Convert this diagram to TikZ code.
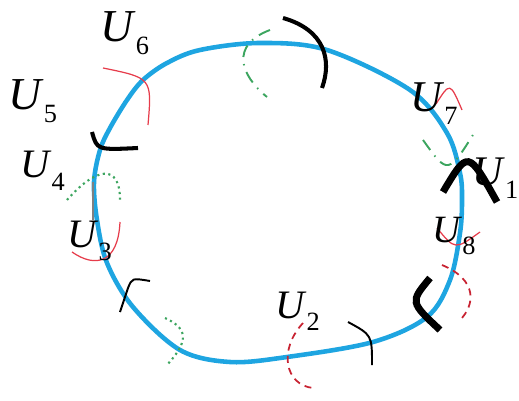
\documentclass[tikz,border=0pt]{standalone}
\usepackage{fontspec}
\setmainfont{Liberation Serif}
\definecolor{loopblue}{RGB}{30,165,225}
\definecolor{arcred}{RGB}{230,60,75}
\definecolor{dashred}{RGB}{200,35,50}
\definecolor{arcgreen}{RGB}{60,165,95}
\newcommand{\ulab}[2]{\fontsize{#1}{#1}\selectfont\textit{U}\raisebox{-7pt}{\fontsize{15}{15}\selectfont #2}}

\begin{document}
\begin{tikzpicture}[x=0.02cm, y=-0.02cm,
    lab/.style={anchor=base west, inner sep=0pt},
    loop/.style={draw=loopblue, line width=2.6pt},
    redthin/.style={draw=arcred, line width=0.7pt},
    reddash/.style={draw=dashred, line width=1pt, dash pattern=on 4pt off 3pt},
    greendash/.style={draw=arcgreen, line width=1.1pt, dash pattern=on 7pt off 4pt on 0.8pt off 4pt},
    greendot/.style={draw=arcgreen, line width=1.2pt, dotted},
    blackthin/.style={draw=black, line width=1.1pt},
    blackmid/.style={draw=black, line width=2.3pt},
    blackthick/.style={draw=black, line width=4pt}]
    \useasboundingbox (0,0) rectangle (519,401);

    \draw[loop] plot[smooth cycle, tension=0.55] coordinates {(143,80) (167,63) (200,50) (260,43) (327,50) (410,90) (447,133) (460,173) (462,200) (460,233) (450,280) (427,317) (373,342) (287,357) (230,362) (180,350) (133,307) (107,263) (97,220) (94,182) (100,150) (110,128) (127,100)};

    \draw[draw=gray, line width=0.8pt] (93,182) -- (93,220);
    \draw[redthin] (103,68) .. controls (152,78) .. (148,125);
    \draw[blackmid] (92,132) .. controls (97,150) .. (138,148);
    \draw[greendot] (67,200) .. controls (95,168) and (120,162) .. (120,200);
    \draw[redthin] (72,252) .. controls (95,268) and (118,264) .. (120,222);
    \draw[blackthin] (120,312) -- (128,288) .. controls (132,278) .. (150,281);
    \draw[greendot] (165,318) .. controls (192,330) and (185,345) .. (167,365);
    \draw[reddash] (303,323) .. controls (278,350) and (285,385) .. (313,388);
    \draw[blackthin] (348,322) .. controls (372,335) .. (372,365);
    \draw[blackthick] (430,278) .. controls (410,302) .. (440,330);
    \draw[reddash] (442,265) .. controls (478,280) and (475,305) .. (460,320);
    \draw[redthin] (437,228) .. controls (455,250) .. (480,232);
    \draw[blackthick] (443,192) .. controls (468,150) .. (497,202);
    \draw[greendash] (423,140) .. controls (448,175) .. (476,130);
    \draw[redthin] (436,104) .. controls (450,82) .. (462,110);
    \draw[blackmid] (283,18) .. controls (325,30) and (332,60) .. (322,88);
    \draw[greendash] (270,30) .. controls (230,45) and (240,75) .. (267,97);

    \node[lab] (u6) at (100,42) {\ulab{26}{6}};
    \node[lab] (u5) at (8,110) {\ulab{26}{5}};
    \node[lab] (u4) at (20,178) {\ulab{23}{4}};
    \node[lab] (u3) at (67,248) {\ulab{23}{3}};
    \node[lab] (u2) at (275,318) {\ulab{23}{2}};
    \node[lab] (u8) at (432,242) {\ulab{22}{8}};
    \node[lab] (u7) at (410,112) {\ulab{25}{7}};
    \node[lab] (u1) at (472,186) {\ulab{24}{1}};
\end{tikzpicture}
\end{document}
